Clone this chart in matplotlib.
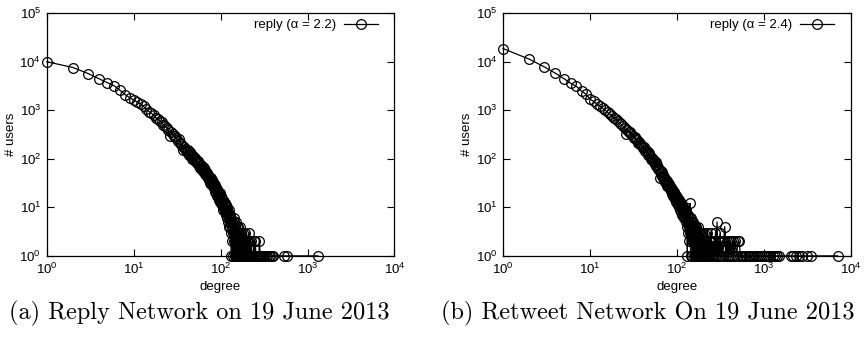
import matplotlib
matplotlib.use("Agg")
import matplotlib.pyplot as plt
from matplotlib.ticker import LogLocator, NullLocator

plt.rcParams['font.family'] = ['Liberation Sans', 'DejaVu Sans']
plt.rcParams['mathtext.fontset'] = 'custom'
plt.rcParams['mathtext.rm'] = 'Liberation Sans'
plt.rcParams['mathtext.it'] = 'Liberation Sans:italic'

# reply network: degree -> number of users
reply_deg = list(range(1, 181)) + [
    182, 183, 185, 186, 188, 190, 191, 193, 195, 197, 199, 200, 202, 205, 208, 211,
    212, 214, 217, 220, 224, 228, 232, 236, 240, 245, 250, 256, 262, 268, 275, 280,
    286, 292, 300, 310, 320, 332, 345, 358, 372, 388, 405, 540, 575, 1320]
reply_users = [
    10000, 7600, 5700, 4450, 3700, 3170, 2560, 2090, 1820, 1630,
    1480, 1350, 1200, 1050, 940, 870, 790, 700, 650, 600,
    560, 500, 470, 430, 400, 300, 350, 330, 290, 290,
    270, 230, 250, 215, 200, 185, 150, 175, 160, 155,
    140, 150, 120, 135, 118, 125, 100, 112, 98, 95,
    102, 85, 92, 80, 88, 70, 82, 66, 75, 70,
    58, 68, 55, 64, 57, 48, 60, 46, 52, 45,
    40, 47, 36, 43, 37, 32, 41, 30, 36, 31,
    27, 34, 25, 30, 26, 21, 29, 20, 25, 22,
    17, 24, 18, 21, 14, 19, 16, 20, 13, 16,
    12, 17, 11, 15, 13, 9, 14, 10, 12, 11,
    8, 12, 9, 7, 11, 8, 10, 6, 9, 8,
    5, 8, 7, 4, 9, 6, 5, 7, 4, 6,
    3, 6, 1, 5, 4, 2, 5, 3, 1, 4,
    6, 2, 3, 5, 1, 3, 4, 2, 1, 5,
    3, 1, 2, 4, 1, 3, 2, 1, 3, 4,
    1, 2, 3, 1, 2, 1, 4, 1, 2, 3,
    1, 2, 1, 3, 1, 2, 1, 1, 3, 1] + [
    2, 1, 2, 1, 1, 3, 1, 2, 1, 1, 2, 1, 1, 2, 1, 1,
    3, 2, 1, 1, 2, 1, 1, 1, 2, 1, 2, 1, 1, 1, 1, 2,
    1, 1, 1, 1, 1, 1, 1, 1, 1, 1, 1, 1, 1, 1]

# retweet network: degree -> number of users
rt_deg = list(range(1, 181)) + [
    182, 183, 185, 186, 188, 190, 192, 194, 196, 198, 200, 203, 206, 209, 212, 215,
    218, 221, 225, 228, 232, 236, 240, 244, 248, 252, 257, 262, 267, 272, 278, 284,
    290, 296, 302, 308, 315, 322, 330, 338, 346, 355, 364, 373, 383, 393, 404, 415,
    427, 440, 455, 470, 487, 505, 520, 538, 555, 575, 600, 625, 650, 680, 710, 745,
    780, 820, 860, 905, 950, 1000, 1060, 1120, 1190, 1260, 1340, 1420, 1500,
    2050, 2150, 2350, 2550, 2750, 3150, 3450, 7100]
rt_users = [
    18700, 11300, 7800, 5800, 4500, 3600, 3100, 2500, 2150, 1700,
    1530, 1350, 1220, 1100, 1000, 900, 830, 760, 700, 650,
    600, 540, 510, 470, 430, 330, 400, 350, 365, 320,
    300, 270, 285, 250, 240, 215, 225, 200, 190, 180,
    170, 175, 145, 155, 135, 140, 120, 130, 112, 100,
    108, 95, 100, 85, 92, 78, 84, 70, 75, 62,
    66, 58, 62, 40, 55, 48, 53, 44, 47, 40,
    43, 36, 39, 34, 37, 30, 35, 28, 32, 29,
    26, 30, 24, 27, 22, 25, 20, 24, 19, 22,
    17, 21, 16, 19, 15, 18, 14, 17, 13, 16,
    14, 12, 15, 11, 13, 10, 14, 12, 9, 13,
    11, 8, 12, 10, 7, 11, 9, 8, 10, 7,
    9, 6, 8, 7, 10, 5, 8, 6, 9, 7,
    4, 1, 6, 5, 3, 7, 4, 2, 5, 6,
    3, 12, 4, 1, 5, 3, 6, 2, 4, 5,
    1, 3, 4, 2, 5, 1, 3, 4, 2, 3,
    1, 4, 2, 3, 1, 2, 4, 1, 3, 2,
    1, 3, 2, 1, 4, 1, 2, 3, 1, 2] + [
    1, 3, 2, 1, 3, 1, 2, 1, 3, 1, 2, 1, 3, 1, 2, 1,
    2, 1, 3, 1, 2, 1, 2, 1, 3, 1, 2, 1, 2, 1, 3, 1,
    5, 1, 2, 1, 3, 1, 2, 1, 2, 4, 1, 2, 1, 2, 1, 2,
    1, 2, 1, 2, 1, 2, 2, 1, 1, 1, 1, 1, 1, 1, 1, 1,
    1, 1, 1, 1, 1, 1, 1, 1, 1, 1, 1, 1, 1,
    1, 1, 1, 1, 1, 1, 1, 1]

panels = [
    (reply_deg, reply_users, 'reply (α = 2.2)', '(a) Reply Network on 19 June 2013'),
    (rt_deg, rt_users, 'reply (α = 2.4)', '(b) Retweet Network On 19 June 2013'),
]

fig = plt.figure(figsize=(8.65, 3.38), dpi=100)
lefts = [0.054, 0.5815]
cap_x = [0.230, 0.749]

for (deg, users, lab, cap), x0, cx in zip(panels, lefts, cap_x):
    ax = fig.add_axes([x0, 0.243, 0.402, 0.718])
    ax.plot(deg, users, color='black', lw=0.9, marker='o', ms=7,
            mfc='none', mec='black', mew=0.9, clip_on=False, label=lab, zorder=3)
    ax.set_xscale('log')
    ax.set_yscale('log')
    ax.set_xlim(1, 1e4)
    ax.set_ylim(1, 1e5)
    ax.xaxis.set_major_locator(LogLocator(base=10, numticks=10))
    ax.yaxis.set_major_locator(LogLocator(base=10, numticks=10))
    ax.xaxis.set_minor_locator(NullLocator())
    ax.yaxis.set_minor_locator(NullLocator())
    ax.tick_params(which='major', direction='in', top=True, right=True,
                   length=5, width=0.8, labelsize=9.5, pad=4)
    for s in ax.spines.values():
        s.set_linewidth(0.9)
    ax.set_xlabel('degree', fontsize=9.5, labelpad=3)
    ax.set_ylabel('# users', fontsize=9.5, labelpad=2)
    ax.legend(loc='upper right', bbox_to_anchor=(0.953, 0.975), frameon=False,
              markerfirst=False, fontsize=9.5, handlelength=2.6,
              borderaxespad=0, borderpad=0, handletextpad=0.6)
    fig.text(cx, 0.074, cap, family='cmr10', fontsize=17.5, ha='center', va='center')

fig.savefig('out.png', dpi=100)
